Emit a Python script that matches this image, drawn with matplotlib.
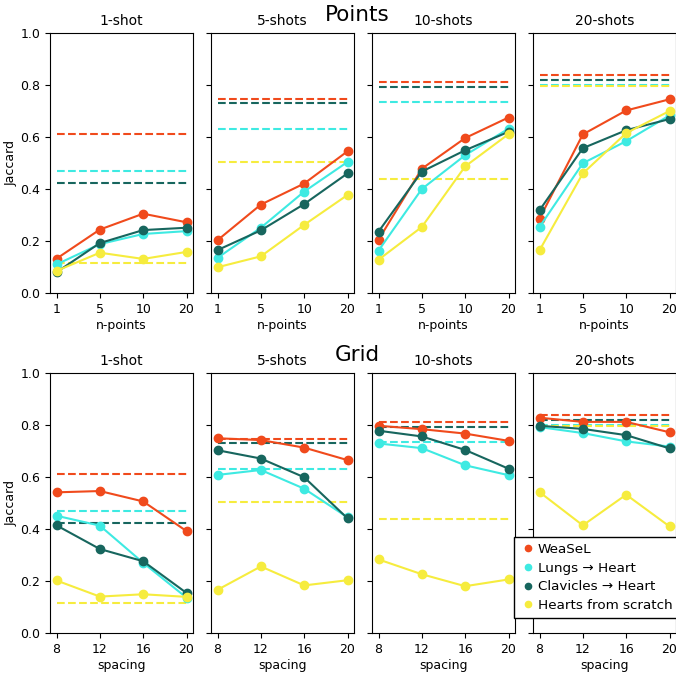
import numpy as np
import matplotlib.pyplot as plt

# Підписи та значення
shots = ['1-shot', '5-shots', '10-shots', '20-shots']
npoints_labels = ['1', '5', '10', '20']
spacing_labels = ['8', '12', '16', '20']
methods = ['WeaSeL', 'Lungs → Heart', 'Clavicles → Heart', 'Hearts from scratch']
colors = ['#f04a1c', '#3eeae2', '#17665e', '#f6ec3e']

# Базові (пунктирні) лінії для кожного методу у кожному k-shot
baseline_weasel = [0.612, 0.747, 0.811, 0.840]
baseline_lungs = [0.468, 0.629, 0.736, 0.800]
baseline_clav = [0.424, 0.732, 0.792, 0.818]
baseline_scratch = [0.115, 0.504, 0.438, 0.796]

# Points: рядки = k-shot, стовпці = n-points (1, 5, 10, 20)
points_weasel = [[0.132, 0.244, 0.305, 0.272],
                 [0.203, 0.340, 0.421, 0.545],
                 [0.205, 0.478, 0.596, 0.675],
                 [0.286, 0.610, 0.702, 0.745]]
points_lungs = [[0.110, 0.188, 0.227, 0.238],
                [0.135, 0.251, 0.390, 0.504],
                [0.163, 0.400, 0.530, 0.632],
                [0.254, 0.499, 0.584, 0.683]]
points_clav = [[0.080, 0.192, 0.242, 0.251],
               [0.165, 0.241, 0.342, 0.460],
               [0.236, 0.467, 0.549, 0.620],
               [0.318, 0.557, 0.626, 0.669]]
points_scratch = [[0.085, 0.155, 0.131, 0.158],
                  [0.099, 0.141, 0.262, 0.377],
                  [0.128, 0.254, 0.487, 0.611],
                  [0.164, 0.460, 0.615, 0.700]]

# Grid: рядки = k-shot, стовпці = spacing (8, 12, 16, 20)
grid_weasel = [[0.541, 0.546, 0.506, 0.392],
               [0.749, 0.742, 0.713, 0.665],
               [0.797, 0.784, 0.767, 0.739],
               [0.828, 0.812, 0.812, 0.772]]
grid_lungs = [[0.451, 0.413, 0.270, 0.136],
              [0.608, 0.627, 0.555, 0.445],
              [0.729, 0.711, 0.645, 0.607],
              [0.792, 0.769, 0.737, 0.717]]
grid_clav = [[0.414, 0.323, 0.276, 0.154],
             [0.703, 0.671, 0.599, 0.441],
             [0.778, 0.756, 0.704, 0.632],
             [0.797, 0.785, 0.761, 0.710]]
grid_scratch = [[0.202, 0.140, 0.149, 0.139],
                [0.166, 0.256, 0.183, 0.203],
                [0.283, 0.226, 0.180, 0.206],
                [0.542, 0.414, 0.532, 0.410]]

baselines = [baseline_weasel, baseline_lungs, baseline_clav, baseline_scratch]
points_data = [points_weasel, points_lungs, points_clav, points_scratch]
grid_data = [grid_weasel, grid_lungs, grid_clav, grid_scratch]

plt.rcParams['xtick.labelsize'] = 9
plt.rcParams['ytick.labelsize'] = 9
plt.rcParams['axes.labelsize'] = 9

W, H = 676, 673
fig = plt.figure(figsize=(W / 100, H / 100), dpi=100)

col_left = [50, 211, 372, 533]
ax_w, ax_h = 143, 260
rows = [(33, points_data, npoints_labels, 'n-points', 'Points'),
        (373, grid_data, spacing_labels, 'spacing', 'Grid')]

last_ax = None
for top, data, xlabels, xname, name in rows:
    for j in range(4):
        ax = fig.add_axes([col_left[j] / W, 1 - (top + ax_h) / H, ax_w / W, ax_h / H])
        x = np.arange(len(xlabels))
        for m in range(4):
            ax.hlines(baselines[m][j], x[0], x[-1], colors=colors[m], linestyles='--', lw=1.5)
        for m in range(4):
            ax.plot(x, data[m][j], '-o', color=colors[m], lw=1.5, ms=6, label=methods[m])
        ax.set_ylim(0, 1)
        ax.set_xticks(x)
        ax.set_xticklabels(xlabels)
        ax.set_xlabel(xname, labelpad=2)
        ax.set_title(shots[j], fontsize=10)
        if j == 0:
            ax.set_ylabel('Jaccard', labelpad=2)
        else:
            ax.set_yticklabels([])
        last_ax = ax
    fig.text(357 / W, 1 - (top - 18) / H, name, ha='center', va='center', fontsize=15.5)

# Легенда лише з маркерами
handles = [plt.Line2D([], [], ls='', marker='o', color=c, ms=4.5) for c in colors]
leg = last_ax.legend(handles, methods, loc='upper left',
                     bbox_to_anchor=((514 - 533) / ax_w, 1 - (537 - 373) / ax_h),
                     borderaxespad=0, fancybox=False, edgecolor='black', framealpha=1,
                     fontsize=9.7, handletextpad=0.1, handlelength=1.2, labelspacing=0.42,
                     borderpad=0.45)
leg.get_frame().set_linewidth(1.0)

plt.savefig('out.png', dpi=100)
